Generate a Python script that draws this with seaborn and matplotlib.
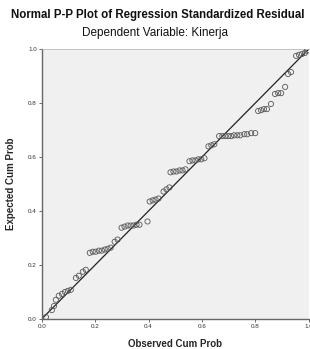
import matplotlib
matplotlib.use("Agg")
import matplotlib.pyplot as plt
import seaborn as sns
import pandas as pd

# Observed vs expected cumulative probability
observed = [0.016, 0.038, 0.046, 0.053, 0.064, 0.076, 0.087, 0.098, 0.109,
            0.128, 0.139, 0.154, 0.165, 0.180, 0.191, 0.202, 0.214, 0.225,
            0.236, 0.247, 0.258, 0.273, 0.284, 0.299, 0.310, 0.322, 0.333,
            0.344, 0.355, 0.366, 0.396, 0.404, 0.415, 0.426, 0.437, 0.456,
            0.467, 0.478, 0.482, 0.493, 0.504, 0.516, 0.527, 0.538, 0.553,
            0.564, 0.575, 0.586, 0.597, 0.609, 0.624, 0.635, 0.646, 0.664,
            0.676, 0.687, 0.698, 0.709, 0.720, 0.732, 0.743, 0.758, 0.769,
            0.784, 0.799, 0.810, 0.821, 0.832, 0.843, 0.858, 0.873, 0.885,
            0.896, 0.911, 0.922, 0.933, 0.952, 0.963, 0.974, 0.985, 0.993]
expected = [0.007, 0.033, 0.048, 0.071, 0.086, 0.093, 0.100, 0.104, 0.108,
            0.152, 0.160, 0.175, 0.182, 0.245, 0.249, 0.249, 0.253, 0.253,
            0.257, 0.260, 0.264, 0.286, 0.294, 0.338, 0.342, 0.346, 0.346,
            0.346, 0.349, 0.349, 0.361, 0.435, 0.439, 0.442, 0.446, 0.472,
            0.480, 0.487, 0.543, 0.546, 0.546, 0.550, 0.550, 0.554, 0.584,
            0.587, 0.587, 0.591, 0.591, 0.595, 0.639, 0.643, 0.647, 0.677,
            0.677, 0.677, 0.677, 0.677, 0.680, 0.680, 0.680, 0.684, 0.684,
            0.688, 0.688, 0.770, 0.773, 0.777, 0.777, 0.796, 0.833, 0.836,
            0.836, 0.859, 0.907, 0.914, 0.974, 0.978, 0.981, 0.985, 0.993]
ticks = [0.0, 0.2, 0.4, 0.6, 0.8, 1.0]
tick_labels = ["0.0", "0.2", "0.4", "0.6", "0.8", "1.0"]

df = pd.DataFrame({"Observed": observed, "Expected": expected})

sns.set_style("white")
plt.rcParams['font.family'] = ['Liberation Sans', 'DejaVu Sans']

fig = plt.figure(figsize=(3.1, 3.49), dpi=100)
ax = fig.add_axes([0.1345, 0.086, 0.862, 0.774])
ax.set_facecolor("#f0f0f0")

# reference line
ax.plot([0, 1], [0, 1], color="#222222", linewidth=0.9, zorder=2)

sns.scatterplot(data=df, x="Observed", y="Expected", ax=ax,
                marker="o", s=14, facecolor="none", edgecolor="#555555",
                linewidth=0.6, zorder=3)

ax.set_xlim(0, 1)
ax.set_ylim(0, 1)
ax.set_xticks(ticks)
ax.set_xticklabels(tick_labels)
ax.set_yticks(ticks)
ax.set_yticklabels(tick_labels)
ax.tick_params(labelsize=4.5, length=2, width=0.6, color="#555555",
               labelcolor="#333333", pad=1.5, direction="out")
ax.tick_params(axis="both", which="both", bottom=True, left=True)

for side in ["left", "bottom"]:
    ax.spines[side].set_color("#666666")
    ax.spines[side].set_linewidth(1.0)
ax.spines["top"].set_color("#bbbbbb")
ax.spines["top"].set_linewidth(0.6)
ax.spines["right"].set_visible(False)

ax.set_xlabel("Observed Cum Prob", fontsize=7, fontweight="bold", labelpad=7)
ax.set_ylabel("Expected Cum Prob", fontsize=7, fontweight="bold", labelpad=9)

fig.text(0.51, 0.958, "Normal P-P Plot of Regression Standardized Residual",
         ha="center", va="center", fontsize=8.3, fontweight="bold", color="#111111")
fig.text(0.50, 0.905, "Dependent Variable: Kinerja",
         ha="center", va="center", fontsize=8.5, color="#111111")

plt.savefig("out.png", dpi=100)
